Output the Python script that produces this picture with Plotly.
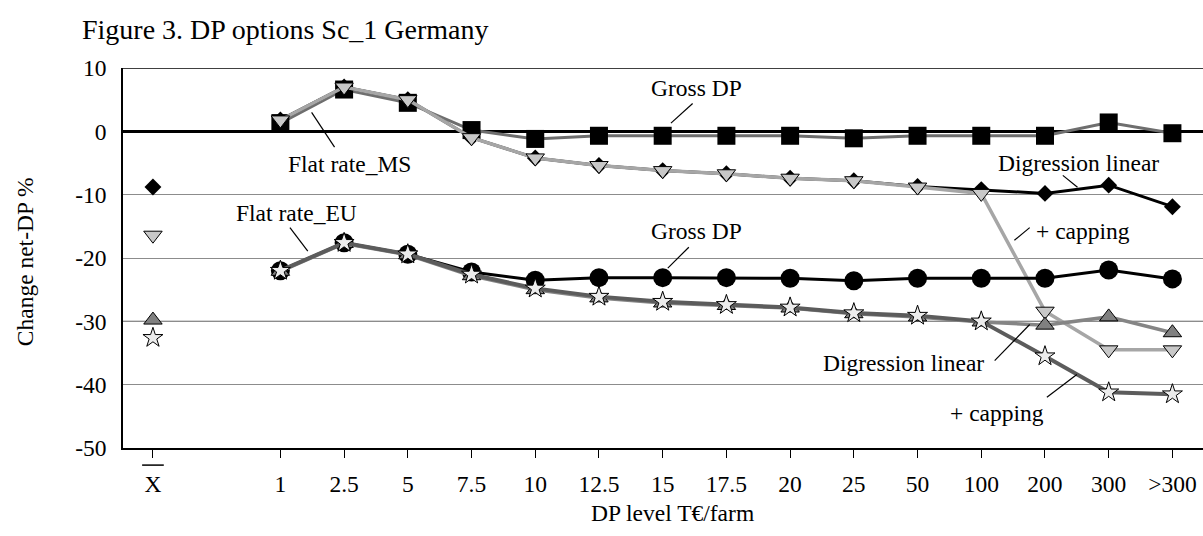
import plotly.graph_objects as go

# Category axis: mean column, an empty slot, then DP level classes (T€/farm)
categories = ["X", "", "1", "2.5", "5", "7.5", "10", "12.5", "15", "17.5",
              "20", "25", "50", "100", "200", "300", ">300"]
level_labels = categories[2:]

# Flat rate_MS scenario (change of net DP, %)
ms_gross = [1.3, 6.6, 4.5, 0.2, -1.2, -0.7, -0.7, -0.7, -0.7, -1.1, -0.7, -0.7, -0.7, 1.4, -0.3]
ms_digression = [1.8, 7.0, 5.0, -1.0, -4.2, -5.4, -6.2, -6.7, -7.4, -7.8, -8.7, -9.2, -9.8, -8.5, -11.9]
ms_capping = [1.8, 7.0, 5.0, -1.0, -4.2, -5.4, -6.2, -6.7, -7.4, -7.8, -8.8, -9.8, -28.4, -34.5, -34.5]

# Flat rate_EU scenario
eu_gross = [-22.0, -17.6, -19.4, -22.2, -23.5, -23.1, -23.1, -23.1, -23.2, -23.6, -23.2, -23.2, -23.2, -21.9, -23.3]
eu_digression = [-22.1, -17.7, -19.5, -22.8, -25.0, -26.3, -27.1, -27.5, -27.9, -28.8, -29.3, -30.1, -30.6, -29.3, -31.8]
eu_capping = [-22.0, -17.6, -19.4, -22.6, -24.8, -26.1, -26.9, -27.4, -27.8, -28.7, -29.1, -30.0, -35.5, -41.2, -41.5]

# Averages over all farms (X-bar column)
mean_ms_digression = -8.8
mean_ms_capping = -16.4
mean_eu_digression = -29.8
mean_eu_capping = -32.6

y_tick_values = [-50, -40, -30, -20, -10, 0, 10]
y_tick_labels = ["-50", "-40", "-30", "-20", "-10", "0", "10"]

x_levels = list(range(2, 2 + len(level_labels)))
x_ticks = [0] + x_levels
x_tick_labels = [categories[0]] + level_labels

FONT = "Liberation Serif, Times New Roman, serif"
TEXT_SIZE = 23.5

fig = go.Figure()


def add_series(y, line_color, line_width, symbol, size, fill, outline):
    fig.add_trace(go.Scatter(
        x=x_levels, y=y, mode="lines+markers",
        line=dict(color=line_color, width=line_width),
        marker=dict(symbol=symbol, size=size, color=fill,
                    line=dict(color="black", width=outline)),
        showlegend=False, hoverinfo="skip"))


# Flat rate_MS group
add_series(ms_gross, "#6e6e6e", 3, "square", 18, "black", 0)
add_series(ms_digression, "black", 3, "diamond", 13, "black", 0)
add_series(ms_capping, "#a6a6a6", 3.5, "triangle-down", 16, "#c8c8c8", 1)
# Flat rate_EU group
add_series(eu_gross, "black", 3, "circle", 19, "black", 0)
add_series(eu_digression, "#858585", 3.5, "triangle-up", 16, "#808080", 1)
add_series(eu_capping, "#5c5c5c", 4, "star", 15, "#ececec", 1)

# Mean markers in the X-bar column
for val, symbol, size, fill, outline in [
    (mean_ms_digression, "diamond", 13, "black", 0),
    (mean_ms_capping, "triangle-down", 16, "#c8c8c8", 1),
    (mean_eu_digression, "triangle-up", 16, "#808080", 1),
    (mean_eu_capping, "star", 15, "#ececec", 1),
]:
    fig.add_trace(go.Scatter(
        x=[0], y=[val], mode="markers",
        marker=dict(symbol=symbol, size=size, color=fill,
                    line=dict(color="black", width=outline)),
        showlegend=False, hoverinfo="skip"))

shapes = [
    # black reference lines at the top of the frame and at -30
    dict(type="line", xref="paper", x0=0, x1=1, yref="y", y0=10, y1=10,
         line=dict(color="black", width=1.5), layer="below"),
    dict(type="line", xref="paper", x0=0, x1=1, yref="y", y0=-30, y1=-30,
         line=dict(color="black", width=1), layer="below"),
    # bar over the X of the mean column
    dict(type="line", xref="x", x0=-0.17, x1=0.17, yref="paper", y0=-0.045, y1=-0.045,
         line=dict(color="black", width=1.5)),
]

# Callout labels with their leader lines: (text, x, y, leader start, leader end)
callouts = [
    ("Gross DP", 8.53, 6.8, (8.47, 4.4), (8.13, 1.3)),
    ("Gross DP", 8.53, -15.8, (8.41, -18.3), (8.08, -21.6)),
    ("Flat rate_MS", 3.08, -5.2, (2.85, -2.5), (2.49, 3.0)),
    ("Flat rate_EU", 2.26, -12.9, (2.15, -15.2), (2.43, -18.9)),
    ("Digression linear", 14.52, -5.05, (14.28, -6.95), (14.51, -8.84)),
    ("+ capping", 14.59, -15.8, (13.76, -15.2), (13.52, -17.2)),
    ("Digression linear", 11.78, -36.6, (13.21, -36.2), (13.76, -30.5)),
    ("+ capping", 13.24, -44.4, (14.03, -42.0), (14.5, -38.4)),
]

annotations = []
for text, tx, ty, p0, p1 in callouts:
    annotations.append(dict(text=text, x=tx, y=ty, xref="x", yref="y",
                            showarrow=False, xanchor="center", yanchor="middle",
                            font=dict(family=FONT, size=TEXT_SIZE, color="black")))
    shapes.append(dict(type="line", xref="x", yref="y", x0=p0[0], y0=p0[1],
                       x1=p1[0], y1=p1[1], line=dict(color="black", width=1.2)))

annotations.append(dict(text="DP level T€/farm", xref="paper", yref="paper",
                        x=0.509, y=-0.172, showarrow=False,
                        xanchor="center", yanchor="middle",
                        font=dict(family=FONT, size=TEXT_SIZE, color="black")))
annotations.append(dict(text="Change net-DP %", xref="paper", yref="paper",
                        x=-0.0907, y=0.489, showarrow=False, textangle=-90,
                        xanchor="center", yanchor="middle",
                        font=dict(family=FONT, size=TEXT_SIZE, color="black")))

fig.update_layout(
    width=1203, height=536,
    margin=dict(l=123, r=0, t=68, b=88),
    paper_bgcolor="white", plot_bgcolor="white",
    font=dict(family=FONT, size=TEXT_SIZE, color="black"),
    title=dict(text="Figure 3. DP options Sc_1 Germany", x=82 / 1203, xanchor="left",
               xref="container", y=1 - 29 / 536, yanchor="middle", yref="container",
               font=dict(family=FONT, size=28, color="black")),
    xaxis=dict(range=[-0.47, 16.48], tickmode="array", tickvals=x_ticks,
               ticktext=x_tick_labels, ticks="outside", ticklen=8, tickwidth=1,
               tickcolor="black", showgrid=False, zeroline=False,
               showline=True, linecolor="black", linewidth=2,
               tickfont=dict(family=FONT, size=TEXT_SIZE), ticklabelstandoff=6),
    yaxis=dict(range=[-50, 10], tickmode="array", tickvals=y_tick_values,
               ticktext=y_tick_labels, ticks="", showgrid=True,
               gridcolor="#8c8c8c", gridwidth=1,
               zeroline=True, zerolinecolor="black", zerolinewidth=2.5,
               showline=True, linecolor="black", linewidth=1.5,
               tickfont=dict(family=FONT, size=TEXT_SIZE), ticklabelstandoff=10),
    shapes=shapes,
    annotations=annotations,
)

fig.write_html("out.html")
